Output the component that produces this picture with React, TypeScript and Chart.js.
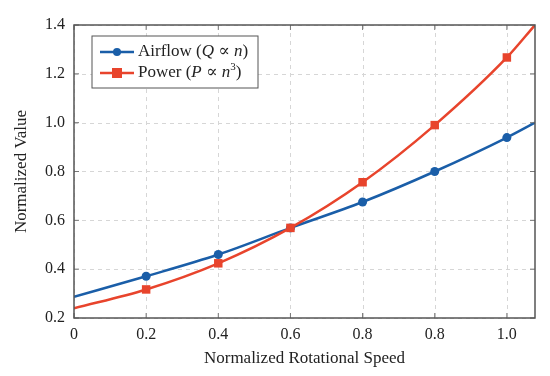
import React, { useEffect, useRef } from "react";
import { Chart, registerables } from "chart.js";

Chart.register(...registerables);

const xPositions = [0, 1, 2, 3, 4, 5, 6, 6.39];
const xTickLabels = ["0", "0.2", "0.4", "0.6", "0.8", "0.8", "1.0"];
const yTickValues = [0.2, 0.4, 0.6, 0.8, 1.0, 1.2, 1.4];
const airflowValues = [0.287, 0.371, 0.46, 0.569, 0.675, 0.8, 0.939, 1.0];
const powerValues = [0.24, 0.317, 0.424, 0.569, 0.756, 0.99, 1.267, 1.4];
const markerRadii = [0, 4.5, 4.5, 4.5, 4.5, 4.5, 4.5, 0];
const squareRadii = [0, 6, 6, 6, 6, 6, 6, 0];

const BLUE = "#1a5ea8";
const RED = "#e8442c";
const SERIF = "'Liberation Serif', 'DejaVu Serif', serif";

const gridPlugin = {
  id: "dashgrid",
  beforeDatasetsDraw(chart: any) {
    const { ctx, chartArea: a, scales } = chart;
    ctx.save();
    ctx.strokeStyle = "#d6d6d6";
    ctx.lineWidth = 1;
    ctx.setLineDash([4, 4]);
    scales.y.ticks.forEach((t: any) => {
      const y = Math.round(scales.y.getPixelForValue(t.value)) + 0.5;
      ctx.beginPath();
      ctx.moveTo(a.left, y);
      ctx.lineTo(a.right, y);
      ctx.stroke();
    });
    scales.x.ticks.forEach((t: any) => {
      const x = Math.round(scales.x.getPixelForValue(t.value)) + 0.5;
      ctx.beginPath();
      ctx.moveTo(x, a.top);
      ctx.lineTo(x, a.bottom);
      ctx.stroke();
    });
    ctx.restore();
  },
};

const framePlugin = {
  id: "frame",
  afterDatasetsDraw(chart: any) {
    const { ctx, chartArea: a, scales } = chart;
    ctx.save();
    ctx.strokeStyle = "#777";
    ctx.lineWidth = 1;
    const tl = 5;
    scales.y.ticks.forEach((t: any) => {
      const y = scales.y.getPixelForValue(t.value);
      ctx.beginPath();
      ctx.moveTo(a.left, y);
      ctx.lineTo(a.left + tl, y);
      ctx.moveTo(a.right, y);
      ctx.lineTo(a.right - tl, y);
      ctx.stroke();
    });
    scales.x.ticks.forEach((t: any) => {
      const x = scales.x.getPixelForValue(t.value);
      ctx.beginPath();
      ctx.moveTo(x, a.bottom);
      ctx.lineTo(x, a.bottom - tl);
      ctx.moveTo(x, a.top);
      ctx.lineTo(x, a.top + tl);
      ctx.stroke();
    });
    ctx.strokeStyle = "#555";
    ctx.lineWidth = 1.5;
    ctx.strokeRect(a.left, a.top, a.right - a.left, a.bottom - a.top);

    // legend
    const bx = 92, by = 36, bw = 166, bh = 52;
    ctx.fillStyle = "#fff";
    ctx.fillRect(bx, by, bw, bh);
    ctx.strokeStyle = "#555";
    ctx.lineWidth = 1;
    ctx.strokeRect(bx, by, bw, bh);

    const drawParts = (parts: any[], x: number, y: number) => {
      ctx.fillStyle = "#222";
      ctx.textBaseline = "middle";
      ctx.textAlign = "left";
      let cx = x;
      parts.forEach((p) => {
        const size = p.sup ? 11 : 17;
        ctx.font = `${p.italic ? "italic " : ""}${size}px ${SERIF}`;
        ctx.fillText(p.t, cx, p.sup ? y - 6 : y);
        cx += ctx.measureText(p.t).width;
      });
    };

    const rows = [
      { y: 52, color: BLUE, square: false, parts: [{ t: "Airflow (" }, { t: "Q", italic: true }, { t: " ∝ " }, { t: "n", italic: true }, { t: ")" }] },
      { y: 73, color: RED, square: true, parts: [{ t: "Power (" }, { t: "P", italic: true }, { t: " ∝ " }, { t: "n", italic: true }, { t: "3", sup: true }, { t: ")" }] },
    ];
    rows.forEach((r) => {
      ctx.strokeStyle = r.color;
      ctx.lineWidth = 2.5;
      ctx.beginPath();
      ctx.moveTo(100, r.y);
      ctx.lineTo(134, r.y);
      ctx.stroke();
      ctx.fillStyle = r.color;
      if (r.square) {
        ctx.fillRect(117 - 5, r.y - 5, 10, 10);
      } else {
        ctx.beginPath();
        ctx.arc(117, r.y, 4, 0, Math.PI * 2);
        ctx.fill();
      }
      drawParts(r.parts, 138, r.y);
    });
    ctx.restore();
  },
};

export default function App() {
  const ref = useRef<HTMLCanvasElement | null>(null);
  useEffect(() => {
    document.body.style.margin = "0";
    const canvas = ref.current!;
    const chart = new Chart(canvas, {
      type: "line",
      data: {
        datasets: [
          {
            label: "Airflow",
            data: xPositions.map((x, i) => ({ x, y: airflowValues[i] })),
            borderColor: BLUE,
            backgroundColor: BLUE,
            borderWidth: 2.5,
            pointRadius: markerRadii,
            pointStyle: "circle",
            pointBorderWidth: 0,
            cubicInterpolationMode: "monotone",
            order: 1,
          },
          {
            label: "Power",
            data: xPositions.map((x, i) => ({ x, y: powerValues[i] })),
            borderColor: RED,
            backgroundColor: RED,
            borderWidth: 2.5,
            pointRadius: squareRadii,
            pointStyle: "rect",
            pointBorderWidth: 0,
            cubicInterpolationMode: "monotone",
            order: 0,
          },
        ],
      },
      options: {
        animation: false,
        responsive: false,
        layout: { padding: { top: 25, right: 15, left: 0, bottom: 0 } },
        plugins: { legend: { display: false }, tooltip: { enabled: false } },
        scales: {
          x: {
            type: "linear",
            min: 0,
            max: 6.39,
            afterBuildTicks: (s: any) => {
              s.ticks = xTickLabels.map((_, i) => ({ value: i }));
            },
            afterFit: (s: any) => {
              s.height = 58;
            },
            ticks: {
              callback: (v: any) => xTickLabels[Math.round(Number(v))] ?? "",
              font: { family: SERIF, size: 16 },
              color: "#222",
              maxRotation: 0,
              autoSkip: false,
              padding: 7,
            },
            grid: { display: false, drawTicks: false },
            border: { display: false },
            title: {
              display: true,
              text: "Normalized Rotational Speed",
              font: { family: SERIF, size: 17 },
              color: "#222",
              padding: { top: 6, bottom: 7 },
            },
          },
          y: {
            min: 0.2,
            max: 1.4,
            afterBuildTicks: (s: any) => {
              s.ticks = yTickValues.map((v) => ({ value: v }));
            },
            afterFit: (s: any) => {
              s.width = 74;
            },
            ticks: {
              callback: (v: any) => Number(v).toFixed(1),
              font: { family: SERIF, size: 16 },
              color: "#222",
              padding: 9,
            },
            grid: { display: false, drawTicks: false },
            border: { display: false },
            title: {
              display: true,
              text: "Normalized Value",
              font: { family: SERIF, size: 17 },
              color: "#222",
              padding: { top: 11, bottom: 0 },
            },
          },
        },
      },
      plugins: [gridPlugin, framePlugin],
    } as any);
    return () => chart.destroy();
  }, []);
  return <canvas ref={ref} width={550} height={376} style={{ display: "block" }} />;
}
